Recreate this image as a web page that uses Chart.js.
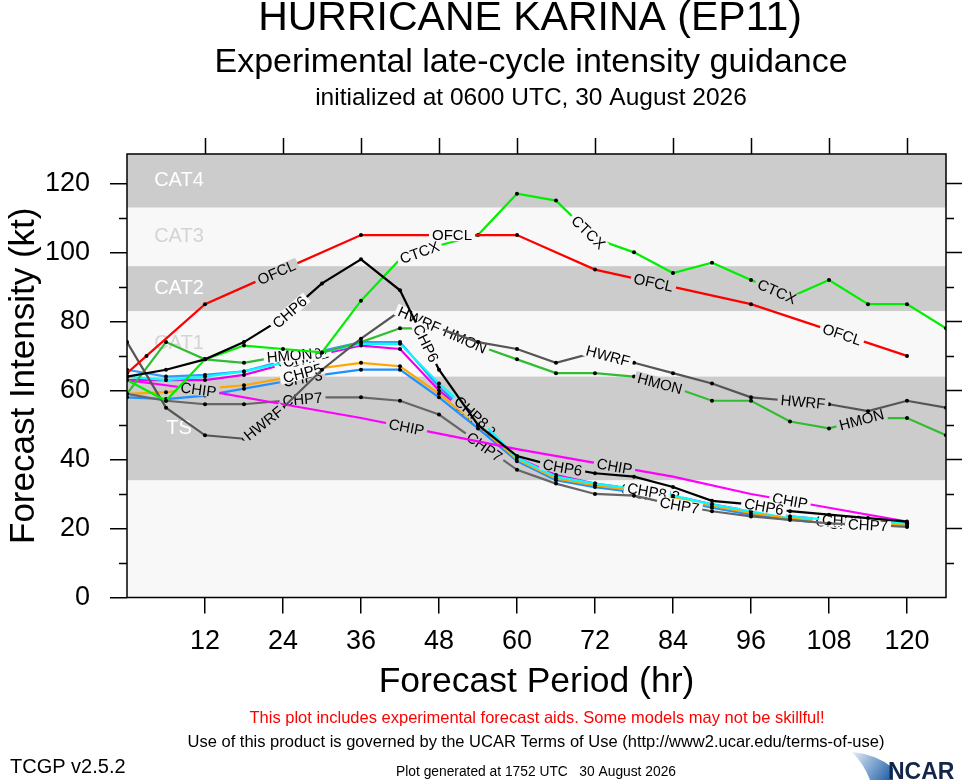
<!DOCTYPE html>
<html>
<head>
<meta charset="utf-8">
<script src="https://cdn.jsdelivr.net/npm/chart.js@4.4.1/dist/chart.umd.min.js"></script>
<style>
    html, body { margin: 0; padding: 0; background: #fff; }
    #wrap { width: 962px; height: 780px; position: relative; }
</style>
</head>
<body>
<div id="wrap"><canvas id="myChart"></canvas></div>
<script>
// forecast hours used by the 6-hourly models
const modelHours = [0, 6, 12, 18, 24, 30, 36, 42, 48, 54, 60, 66, 72, 78, 84, 90, 96, 102, 108, 114, 120, 126];

const ofclHours = [0, 3, 12, 24, 36, 48, 60, 72, 96, 120];
const ofclKt = [65, 70, 85, 95, 105, 105, 105, 95, 85, 70];

const chipHours = [0, 6, 12, 24, 36, 48, 60, 72, 84, 96, 108, 120];
const chipKt = [63, 61.5, 60, 56, 52, 47.5, 43, 39, 35, 30, 26, 22];

const ctcxKt = [63, 57, 69, 73, 72, 71, 86, 98, 102, 105, 117, 115, 104, 100, 94, 97, 92, 87, 92, 85, 85, 78];
const hwrfKt = [74, 55, 47, 46, 55, 66, 75, 83, 78, 74, 72, 68, 71, 68, 65, 62, 58, 57, 56, 54, 57, 55];
const hmonKt = [59, 74, 69, 68, 70, 71, 74, 78, 78, 73, 69, 65, 65, 64, 61, 57, 57, 51, 49, 52, 52, 47];
const chp6Kt = [64, 66, 69, 74, 81, 91, 98, 89, 66, 50, 41, 38, 36, 35, 32, 28, 27, 25, 24, 23, 22, null];
const chp7Kt = [59, 57, 56, 56, 57, 58, 58, 57, 53, 45, 37, 33, 30, 29.5, 27, 25, 23.5, 22.5, 21.5, 21, 20.5, null];
const chp5Kt = [59, 59.5, 60.5, 61.5, 63.5, 66.5, 68, 67, 59, 50, 40, 34.5, 32.5, 31, 29, 26.5, 24.5, 23, 22, 21.5, 21, null];
const chp3Kt = [58, 57.5, 58.5, 60.5, 62.5, 64.5, 66, 66, 58, 49, 39.5, 34, 32, 30.5, 28.5, 26, 24, 22.5, 21.5, 21, 20.5, null];
const chp8Kt = [64, 63, 64, 65.5, 68, 71, 73.5, 73.5, 62, 52, 40.5, 35, 33, 31.5, 29.5, 27, 25, 23.5, 22.5, 22, 21.5, null];
const chp4Kt = [66, 64, 64.5, 65.5, 68.5, 71.5, 74, 74, 61, 51, 40, 35, 32.5, 31, 29, 26.5, 24.5, 23, 22, 21.5, 21, null];
const chp2Kt = [63, 63, 63, 64.5, 67.5, 70.5, 73, 72, 60, 51, 40.5, 35.5, 33, 31.5, 29.5, 27, 25, 23.5, 22.5, 22, 21.5, null];

// intensity category bands (kt)
const bandEdges = [0, 34, 64, 83, 96, 113, 140];
const bandNames = ["", "TS", "CAT1", "CAT2", "CAT3", "CAT4"];

const FONT = "'Liberation Sans', Arial, Helvetica, sans-serif";
Chart.defaults.font.family = FONT;
Chart.defaults.color = "#000";

function pts(hours, vals) {
    return hours.map(function (h, i) { return { x: h, y: vals[i] }; });
}

function isGrayBand(v) {
    return v >= 113 || (v >= 83 && v < 96) || (v >= 34 && v < 64);
}

function makeSet(name, hours, vals, color, labelHours, noPoints) {
    return {
        label: name,
        data: pts(hours, vals),
        borderColor: color,
        backgroundColor: color,
        borderWidth: 2.2,
        pointRadius: noPoints ? 0 : 2,
        pointBackgroundColor: "#000",
        pointBorderWidth: 0,
        tension: 0,
        labelHours: labelHours,
    };
}

// labels along the lines, with a gap cut in the band colour
const lineLabels = {
    id: "lineLabels",
    afterDatasetDraw(chart, args) {
        const ds = chart.data.datasets[args.index];
        if (!ds.labelHours) return;
        const xs = chart.scales.x, ys = chart.scales.y, ctx = chart.ctx;
        const p = ds.data.filter(function (d) { return d.y !== null; });
        ctx.save();
        ctx.beginPath();
        ctx.rect(chart.chartArea.left, chart.chartArea.top, chart.chartArea.width, chart.chartArea.height);
        ctx.clip();
        ctx.font = "15px " + FONT;
        ctx.textAlign = "center";
        ctx.textBaseline = "middle";
        ds.labelHours.forEach(function (h) {
            for (let i = 0; i < p.length - 1; i++) {
                const a = p[i], b = p[i + 1];
                if (h >= a.x && h <= b.x) {
                    const t = (h - a.x) / (b.x - a.x);
                    const v = a.y + t * (b.y - a.y);
                    const x1 = xs.getPixelForValue(a.x), y1 = ys.getPixelForValue(a.y);
                    const x2 = xs.getPixelForValue(b.x), y2 = ys.getPixelForValue(b.y);
                    const ang = Math.atan2(y2 - y1, x2 - x1);
                    const w = ctx.measureText(ds.label).width;
                    ctx.save();
                    ctx.translate(x1 + t * (x2 - x1), y1 + t * (y2 - y1));
                    ctx.rotate(ang);
                    ctx.fillStyle = isGrayBand(v) ? "#cccccc" : "#f8f8f8";
                    ctx.fillRect(-w / 2 - 3, -6, w + 6, 12);
                    ctx.fillStyle = "#000";
                    ctx.fillText(ds.label, 0, 1);
                    ctx.restore();
                    break;
                }
            }
        });
        ctx.restore();
    },
};

const frame = {
    id: "frame",
    beforeDatasetsDraw(chart) {
        const ctx = chart.ctx, a = chart.chartArea, ys = chart.scales.y, xs = chart.scales.x;
        ctx.save();
        ctx.fillStyle = "#f8f8f8";
        ctx.fillRect(a.left, a.top, a.width, a.height);
        for (let i = 1; i < bandEdges.length - 1; i++) {
            const yb = ys.getPixelForValue(bandEdges[i]);
            const yt = Math.max(a.top, ys.getPixelForValue(bandEdges[i + 1]));
            if (isGrayBand(bandEdges[i])) {
                ctx.fillStyle = "#cccccc";
                ctx.fillRect(a.left, yt, a.width, yb - yt);
            }
            ctx.fillStyle = isGrayBand(bandEdges[i]) ? "#ffffff" : "#d4d4d4";
            ctx.font = "20px " + FONT;
            ctx.textAlign = "center";
            ctx.textBaseline = "middle";
            ctx.fillText(bandNames[i], xs.getPixelForValue(8), (yb + yt) / 2);
        }
        ctx.restore();
    },
    afterDraw(chart) {
        const ctx = chart.ctx, a = chart.chartArea, ys = chart.scales.y, xs = chart.scales.x;
        ctx.save();
        ctx.strokeStyle = "#000";
        ctx.lineWidth = 1.5;
        ctx.strokeRect(a.left, a.top, a.width, a.height);
        ctx.beginPath();
        for (let v = 10; v <= 120; v += 10) {
            const y = Math.round(ys.getPixelForValue(v)) + 0.5;
            const len = v % 20 === 0 ? 17 : 8;
            if (v % 20 !== 0) { ctx.moveTo(a.left - 8, y); ctx.lineTo(a.left, y); }
            ctx.moveTo(a.right, y); ctx.lineTo(a.right + len, y);
        }
        for (let h = 12; h <= 120; h += 12) {
            const x = Math.round(xs.getPixelForValue(h)) + 0.5;
            ctx.moveTo(x, a.top); ctx.lineTo(x, a.top - 16);
        }
        ctx.stroke();

        // titles
        ctx.fillStyle = "#000";
        ctx.textAlign = "center";
        ctx.textBaseline = "middle";
        ctx.font = "41px " + FONT;
        ctx.fillText("HURRICANE KARINA (EP11)", 530, 19);
        ctx.font = "34px " + FONT;
        ctx.fillText("Experimental late-cycle intensity guidance", 531, 63);
        ctx.font = "24.5px " + FONT;
        ctx.fillText("initialized at 0600 UTC, 30 August 2026", 531, 98);

        // footer
        ctx.font = "16.5px " + FONT;
        ctx.fillStyle = "#ff0000";
        ctx.fillText("This plot includes experimental forecast aids. Some models may not be skillful!", 537, 718);
        ctx.fillStyle = "#000";
        ctx.fillText("Use of this product is governed by the UCAR Terms of Use (http://www2.ucar.edu/terms-of-use)", 536, 742);
        ctx.font = "13.8px " + FONT;
        ctx.fillText("Plot generated at 1752 UTC   30 August 2026", 536, 772);
        ctx.textAlign = "left";
        ctx.font = "20px " + FONT;
        ctx.fillText("TCGP v2.5.2", 10, 767);

        // NCAR mark
        const g = ctx.createLinearGradient(852, 752, 892, 780);
        g.addColorStop(0, "#e4eef8");
        g.addColorStop(1, "#1d5ca6");
        ctx.fillStyle = g;
        ctx.beginPath();
        ctx.moveTo(852, 752);
        ctx.quadraticCurveTo(876, 754, 893, 768);
        ctx.lineTo(893, 780);
        ctx.lineTo(870, 780);
        ctx.quadraticCurveTo(864, 764, 852, 752);
        ctx.fill();
        ctx.fillStyle = "#14254a";
        ctx.font = "bold 23px " + FONT;
        ctx.textBaseline = "alphabetic";
        ctx.fillText("NCAR", 888, 779);
        ctx.restore();
    },
};

const ctx = document.getElementById("myChart");

new Chart(ctx, {
    type: "line",
    data: {
        datasets: [
            makeSet("OFCL", ofclHours, ofclKt, "#ff0000", [23, 50, 81, 110]),
            makeSet("CHP6", modelHours, chp6Kt, "#000000", [25, 46, 67, 98]),
            makeSet("CTCX", modelHours, ctcxKt, "#00ee00", [45, 71, 100]),
            makeSet("HWRF", modelHours, hwrfKt, "#555555", [21, 45, 74, 104]),
            makeSet("HMON", modelHours, hmonKt, "#33bb33", [25, 52, 82, 113]),
            makeSet("CHIP", chipHours, chipKt, "#ff00ff", [11, 43, 75, 102], true),
            makeSet("CHP7", modelHours, chp7Kt, "#666666", [27, 55, 85, 114]),
            makeSet("CHP8", modelHours, chp8Kt, "#00ffff", [27, 53, 80, 110]),
            makeSet("CHP5", modelHours, chp5Kt, "#ffa500", [27, 80, 109]),
            makeSet("CHP3", modelHours, chp3Kt, "#1e90ff", [27, 81, 111]),
            makeSet("CHP4", modelHours, chp4Kt, "#3399ff", [26, 53, 79]),
            makeSet("CHP2", modelHours, chp2Kt, "#ee00ee", [28, 54, 82]),
        ],
    },
    options: {
        responsive: true,
        maintainAspectRatio: false,
        animation: false,
        devicePixelRatio: 1,
        layout: { padding: { top: 154, right: 16, left: 0, bottom: 0 } },
        plugins: {
            legend: { display: false },
            tooltip: { enabled: false },
        },
        scales: {
            x: {
                type: "linear",
                min: 0,
                max: 126,
                afterFit: function (s) { s.height = 182.5; },
                ticks: {
                    stepSize: 12,
                    includeBounds: false,
                    autoSkip: false,
                    maxRotation: 0,
                    padding: 12,
                    font: { size: 27 },
                    callback: function (v) { return v === 0 ? "" : v; },
                },
                grid: {
                    drawOnChartArea: false,
                    tickLength: 16,
                    lineWidth: 1.5,
                    color: function (c) { return c.tick && c.tick.value === 0 ? "rgba(0,0,0,0)" : "#000"; },
                },
                border: { display: false },
                title: {
                    display: true,
                    text: "Forecast Period (hr)",
                    font: { size: 35.5 },
                    padding: { top: 0, bottom: 76 },
                },
            },
            y: {
                min: 0,
                max: 128.5,
                afterFit: function (s) { s.width = 127; },
                ticks: {
                    stepSize: 20,
                    includeBounds: false,
                    padding: 20,
                    font: { size: 27 },
                },
                grid: {
                    drawOnChartArea: false,
                    tickLength: 17,
                    lineWidth: 1.5,
                    color: "#000",
                },
                border: { display: false },
                title: {
                    display: true,
                    text: "Forecast Intensity (kt)",
                    font: { size: 35 },
                    padding: { top: 3, bottom: 0 },
                },
            },
        },
    },
    plugins: [frame, lineLabels],
});
</script>
</body>
</html>
